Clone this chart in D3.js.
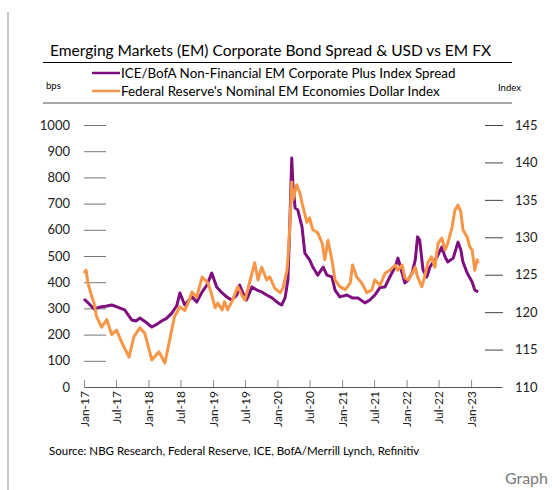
<!DOCTYPE html>
<html>
<head>
<meta charset="utf-8">
<script src="https://cdn.jsdelivr.net/npm/d3@7"></script>
<style>
  body { margin: 0; background: #fff; }
  svg { display: block; font-family: Lato, "Open Sans", sans-serif; }
</style>
</head>
<body>
<div id="chart"></div>
<script>
var w = 552;
var h = 490;

// ICE/BofA spread (bps)
var spreadDates = ["2017-01-01","2017-01-29","2017-02-27","2017-04-01","2017-05-04","2017-06-07","2017-07-10","2017-08-19","2017-09-28","2017-10-22","2017-11-13","2017-12-16",
  "2018-01-20","2018-02-19","2018-03-16","2018-04-13","2018-05-13","2018-06-10","2018-06-28","2018-07-25","2018-09-04","2018-10-01","2018-11-01","2018-11-28","2018-12-25",
  "2019-01-22","2019-02-22","2019-03-19","2019-04-16","2019-05-16","2019-06-01","2019-06-19","2019-07-10","2019-08-10","2019-09-07","2019-10-04","2019-11-01","2019-12-01",
  "2020-01-04","2020-01-25","2020-02-13","2020-02-29","2020-03-10","2020-03-22","2020-03-28","2020-04-10","2020-04-25","2020-05-19","2020-06-04","2020-07-01","2020-07-19","2020-08-16","2020-09-16","2020-10-07","2020-11-04","2020-11-22","2020-12-19",
  "2021-01-28","2021-02-28","2021-04-01","2021-05-10","2021-06-07","2021-07-04","2021-08-04","2021-09-01","2021-09-28","2021-10-28","2021-11-13","2021-12-07","2021-12-22",
  "2022-01-10","2022-02-01","2022-02-19","2022-03-04","2022-03-16","2022-04-04","2022-04-25","2022-05-13","2022-05-28","2022-06-22","2022-07-19","2022-08-07","2022-08-22","2022-09-22","2022-10-19","2022-11-04","2022-11-16","2022-12-10",
  "2023-01-07","2023-01-22","2023-02-10"];
var spreadValues = [336,318,298,305,308,313,305,294,256,252,263,248,
  229,240,252,262,282,310,359,313,344,324,363,389,435,
  382,359,344,332,351,389,359,332,382,370,363,351,340,
  321,313,340,408,600,874,779,683,676,611,511,485,458,427,458,427,420,370,344,
  351,340,340,321,332,350,380,382,420,458,492,435,397,
  408,435,485,573,561,447,420,458,473,496,534,496,477,492,553,523,477,435,
  401,370,363];

// Fed nominal EM economies dollar index
var fxDates = ["2017-01-01","2017-01-13","2017-01-23","2017-02-10","2017-02-27","2017-03-13","2017-04-11","2017-05-10","2017-06-07","2017-07-04","2017-08-04","2017-09-13","2017-10-10","2017-11-13","2017-12-11",
  "2018-01-20","2018-03-01","2018-04-04","2018-05-01","2018-05-28","2018-06-28","2018-07-25","2018-08-13","2018-09-04","2018-10-01","2018-11-01","2018-11-16","2018-12-04","2018-12-25",
  "2019-01-13","2019-01-28","2019-02-22","2019-03-07","2019-03-25","2019-04-22","2019-05-21","2019-06-13","2019-07-01","2019-08-10","2019-08-25","2019-09-13","2019-10-04","2019-11-01","2019-11-19","2019-12-16",
  "2020-01-16","2020-02-01","2020-02-24","2020-02-29","2020-03-10","2020-03-22","2020-03-28","2020-04-19","2020-05-07","2020-05-22","2020-06-16","2020-07-01","2020-07-19","2020-08-16","2020-09-10","2020-09-25","2020-10-13","2020-11-04","2020-11-22","2020-12-19",
  "2021-01-19","2021-02-16","2021-03-01","2021-03-25","2021-04-22","2021-05-21","2021-06-19","2021-07-04","2021-07-22","2021-08-04","2021-09-01","2021-09-28","2021-10-28","2021-11-13","2021-12-07","2021-12-22",
  "2022-01-10","2022-02-01","2022-02-19","2022-03-04","2022-03-28","2022-04-13","2022-05-01","2022-05-22","2022-06-10","2022-06-28","2022-07-19","2022-08-07","2022-08-22","2022-09-16","2022-10-01","2022-10-19","2022-11-04","2022-11-16","2022-12-10","2022-12-25",
  "2023-01-07","2023-01-22","2023-02-04","2023-02-10"];
var fxValues = [125.2,125.6,123.9,122.4,121.2,119.4,118.0,119.0,117.0,117.6,115.9,114.0,116.7,117.9,117.2,
  113.6,114.7,113.2,116.3,119.4,120.7,120.2,121.2,122.7,122.0,124.7,124.3,123.9,122.3,
  120.6,121.2,120.3,121.4,120.3,121.6,123.4,122.3,121.6,125.2,126.6,124.3,126.0,124.3,124.7,123.2,
  122.6,123.2,125.6,127.0,131.0,137.4,135.0,137.0,135.9,134.3,132.0,132.6,131.0,130.6,129.2,127.0,129.6,127.0,124.3,123.4,
  123.0,123.9,126.3,124.7,123.9,122.6,123.0,124.3,123.9,123.6,125.2,125.6,126.3,125.6,126.3,124.6,
  124.3,125.2,126.0,124.7,123.4,124.7,126.6,127.4,126.0,129.2,129.9,128.3,129.2,131.4,133.6,134.3,133.4,131.0,130.0,128.7,
  128.3,125.6,127.0,126.5];

var leftTicks = [0,100,200,300,400,500,600,700,800,900,1000];
var rightTicks = [110,115,120,125,130,135,140,145];
var seriesNames = ["ICE/BofA Non-Financial EM Corporate Plus Index Spread", "Federal Reserve's Nominal EM Economies Dollar Index"];
var seriesColors = ["#7f0f7e", "#f79646"];

var parse = d3.timeParse("%Y-%m-%d");
var spread = spreadDates.map(function(d, i) { return {date: parse(d), value: spreadValues[i]}; });
var fx = fxDates.map(function(d, i) { return {date: parse(d), value: fxValues[i]}; });

var svg = d3.select("#chart")
  .append("svg")
  .attr("width", w)
  .attr("height", h);

svg.append("rect").attr("width", w).attr("height", h).attr("fill", "#fff");

// page border on the left
svg.append("line")
  .attr("x1", 8).attr("x2", 8).attr("y1", 12).attr("y2", h)
  .attr("stroke", "#c4c4c4").attr("stroke-width", 2);

// title block
svg.append("text")
  .attr("x", 50).attr("y", 56)
  .style("font-size", "15.5px")
  .text("Emerging Markets (EM) Corporate Bond Spread & USD vs EM FX");

svg.append("line")
  .attr("x1", 43).attr("x2", 512).attr("y1", 62.5).attr("y2", 62.5)
  .attr("stroke", "#000").attr("stroke-width", 1);

svg.append("line")
  .attr("x1", 43).attr("x2", 512).attr("y1", 103).attr("y2", 103)
  .attr("stroke", "#8a8a8a").attr("stroke-width", 1.5);

// legend
seriesNames.forEach(function(name, i) {
  var y = 73 + i * 18;
  svg.append("line")
    .attr("x1", 92).attr("x2", 120).attr("y1", y).attr("y2", y)
    .attr("stroke", seriesColors[i]).attr("stroke-width", 2.5);
  svg.append("text")
    .attr("x", 121).attr("y", y + 4.5)
    .style("font-size", "13.4px")
    .text(name);
});

svg.append("text").attr("x", 46).attr("y", 89).style("font-size", "9.5px").text("bps");
svg.append("text").attr("x", 498).attr("y", 91).style("font-size", "9.5px").text("Index");

// scales
var x = d3.scaleTime()
  .domain([parse("2017-01-01"), parse("2023-06-25")])
  .range([84, 502]);
var yL = d3.scaleLinear().domain([0, 1000]).range([387, 125]);
var yR = d3.scaleLinear().domain([110, 145]).range([387, 125]);

// left axis
var gL = svg.append("g")
  .attr("transform", "translate(106,0)")
  .call(d3.axisLeft(yL).tickValues(leftTicks).tickFormat(d3.format("d")).tickSize(22).tickPadding(14));
gL.select(".domain").remove();
gL.selectAll("line").attr("stroke", "#777");
gL.selectAll("text").style("font-size", "13px").attr("fill", "#222").style("font-family", "Lato, sans-serif");
gL.selectAll(".tick").filter(function(d) { return d === 0; }).select("line").remove();

// right axis
var gR = svg.append("g")
  .attr("transform", "translate(485,0)")
  .call(d3.axisRight(yR).tickValues(rightTicks).tickSize(18).tickPadding(12));
gR.select(".domain").remove();
gR.selectAll("line").attr("stroke", "#444");
gR.selectAll("text").style("font-size", "13px").attr("fill", "#222").style("font-family", "Lato, sans-serif");
gR.selectAll(".tick").filter(function(d) { return d === 110; }).select("line").remove();

// bottom axis
var xTicks = d3.timeMonth.every(6).range(parse("2017-01-01"), parse("2023-02-01"));
var gX = svg.append("g")
  .attr("transform", "translate(0,387)")
  .call(d3.axisBottom(x).tickValues(xTicks).tickFormat(d3.timeFormat("%b-%y")).tickSizeInner(-7).tickSizeOuter(0));
gX.select(".domain").attr("stroke", "#555");
gX.selectAll("line").attr("stroke", "#888");
gX.selectAll("text")
  .attr("y", 0).attr("x", -4).attr("dy", "0.35em")
  .attr("transform", "rotate(-90)")
  .style("text-anchor", "end")
  .style("font-size", "12px")
  .style("font-family", "Lato, sans-serif")
  .attr("fill", "#222");

// lines
var lineL = d3.line().x(function(d) { return x(d.date); }).y(function(d) { return yL(d.value); });
var lineR = d3.line().x(function(d) { return x(d.date); }).y(function(d) { return yR(d.value); });

svg.append("path").datum(spread)
  .attr("d", lineL).attr("fill", "none")
  .attr("stroke", seriesColors[0]).attr("stroke-width", 3).attr("stroke-linejoin", "round");

svg.append("path").datum(fx)
  .attr("d", lineR).attr("fill", "none")
  .attr("stroke", seriesColors[1]).attr("stroke-width", 3).attr("stroke-linejoin", "round");

// footer
svg.append("text")
  .attr("x", 49).attr("y", 455)
  .style("font-size", "11.5px")
  .text("Source: NBG Research, Federal Reserve, ICE, BofA/Merrill Lynch, Refinitiv");

svg.append("text")
  .attr("x", 548).attr("y", 484)
  .style("text-anchor", "end")
  .style("font-size", "16px")
  .attr("fill", "#7a7a7a")
  .text("Graph");
</script>
</body>
</html>
